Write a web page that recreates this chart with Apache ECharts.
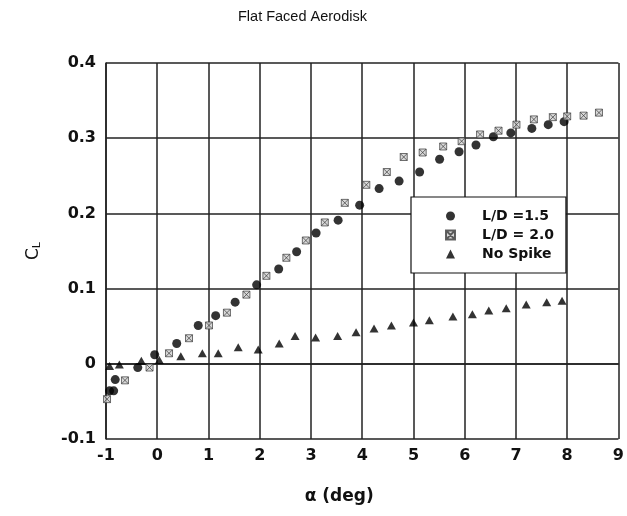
<!DOCTYPE html>
<html>
<head>
<meta charset="utf-8">
<title>Flat Faced Aerodisk</title>
<script src="https://cdn.jsdelivr.net/npm/echarts@6/dist/echarts.min.js"></script>
<style>
  html, body { margin: 0; padding: 0; background: #fff; }
  #chart { width: 627px; height: 516px; }
</style>
</head>
<body>
<div id="chart"></div>
<script>
// angle of attack (deg) and lift coefficient
const ldA15 = [-0.93, -0.85, -0.82, -0.38, -0.05, 0.38, 0.80, 1.14, 1.52, 1.94, 2.37, 2.72, 3.10, 3.53, 3.95,
  4.33, 4.72, 5.12, 5.51, 5.89, 6.22, 6.56, 6.90, 7.31, 7.63, 7.94]
const ldCL15 = [-0.036, -0.036, -0.021, -0.005, 0.012, 0.027, 0.051, 0.064, 0.082, 0.105, 0.126, 0.149, 0.174, 0.191, 0.211,
  0.233, 0.243, 0.255, 0.272, 0.282, 0.291, 0.302, 0.307, 0.313, 0.318, 0.322]

const ldA20 = [-0.98, -0.63, -0.15, 0.23, 0.62, 1.01, 1.36, 1.74, 2.13, 2.52, 2.90, 3.27, 3.66, 4.08, 4.48,
  4.81, 5.18, 5.58, 5.94, 6.30, 6.66, 7.01, 7.35, 7.72, 8.00, 8.32, 8.62]
const ldCL20 = [-0.047, -0.022, -0.005, 0.014, 0.034, 0.051, 0.068, 0.092, 0.117, 0.141, 0.164, 0.188, 0.214, 0.238, 0.255,
  0.275, 0.281, 0.289, 0.296, 0.305, 0.310, 0.318, 0.325, 0.328, 0.329, 0.330, 0.334]

const noSpikeA = [-0.93, -0.74, -0.31, 0.04, 0.46, 0.88, 1.19, 1.58, 1.97, 2.38, 2.69, 3.09, 3.52, 3.88, 4.23,
  4.57, 5.00, 5.31, 5.77, 6.15, 6.47, 6.81, 7.20, 7.60, 7.90]
const noSpikeCL = [-0.003, -0.001, 0.004, 0.005, 0.010, 0.014, 0.014, 0.022, 0.019, 0.027, 0.037, 0.035, 0.037, 0.042, 0.047,
  0.051, 0.055, 0.058, 0.063, 0.066, 0.071, 0.074, 0.079, 0.082, 0.084]

const seriesNames = ['L/D =1.5', 'L/D = 2.0', 'No Spike']

const pairs = (xs, ys) => xs.map((x, i) => [x, ys[i]])

// boxed cross marker for the L/D = 2.0 points
const boxCross = 'path://M0,0L10,0L10,10L0,10ZM0,0L10,10M10,0L0,10'

const boldFont = 'DejaVu Sans'
const chart = echarts.init(document.getElementById('chart'))

const option = {
  animation: false,
  backgroundColor: '#fff',
  title: {
    text: 'Flat Faced Aerodisk',
    left: 238,
    top: 9,
    padding: 0,
    textStyle: {
      fontFamily: 'Liberation Sans',
      fontSize: 14.5,
      fontWeight: 'normal',
      color: '#111'
    }
  },
  grid: {
    left: 106,
    right: 6,
    top: 63,
    bottom: 77
  },
  legend: {
    orient: 'vertical',
    left: 411,
    top: 197,
    padding: [11, 12, 11, 34],
    backgroundColor: '#fff',
    borderColor: '#111',
    borderWidth: 1.2,
    itemWidth: 9,
    itemHeight: 9,
    itemGap: 3,
    data: seriesNames,
    textStyle: {
      fontFamily: boldFont,
      fontWeight: 'bold',
      fontSize: 14,
      lineHeight: 16,
      padding: [0, 0, 0, 22],
      color: '#111'
    }
  },
  xAxis: {
    type: 'value',
    min: -1,
    max: 9,
    interval: 1,
    name: 'α (deg)',
    nameLocation: 'middle',
    nameGap: 49,
    nameTextStyle: {
      fontFamily: boldFont,
      fontWeight: 'bold',
      fontSize: 17,
      color: '#111',
      padding: [0, 46, 0, 0]
    },
    axisLine: { lineStyle: { color: '#222', width: 1.5 } },
    axisTick: { show: false },
    axisLabel: {
      margin: 9,
      fontFamily: boldFont,
      fontWeight: 'bold',
      fontSize: 16,
      color: '#111'
    },
    splitLine: { lineStyle: { color: '#222', width: 1.5 } }
  },
  yAxis: {
    type: 'value',
    min: -0.1,
    max: 0.4,
    interval: 0.1,
    name: '{c|C}{s|L}',
    nameLocation: 'middle',
    nameGap: 63,
    nameRotate: 90,
    nameTextStyle: {
      rich: {
        c: { fontFamily: boldFont, fontSize: 17, color: '#111' },
        s: { fontFamily: boldFont, fontSize: 11, color: '#111', verticalAlign: 'bottom', padding: [8, 0, 0, 0] }
      }
    },
    axisLine: { show: true, onZero: false, lineStyle: { color: '#222', width: 1.5 } },
    axisTick: { show: false },
    axisLabel: {
      margin: 10,
      fontFamily: boldFont,
      fontWeight: 'bold',
      fontSize: 16,
      color: '#111'
    },
    splitLine: { lineStyle: { color: '#222', width: 1.5 } }
  },
  series: [
    {
      name: seriesNames[0],
      type: 'scatter',
      symbol: 'circle',
      symbolSize: 9,
      itemStyle: { color: '#000' },
      data: pairs(ldA15, ldCL15)
    },
    {
      name: seriesNames[1],
      type: 'scatter',
      symbol: boxCross,
      symbolSize: 7,
      itemStyle: { color: '#cfcfcf', borderColor: '#3a3a3a', borderWidth: 0.9 },
      data: pairs(ldA20, ldCL20)
    },
    {
      name: seriesNames[2],
      type: 'scatter',
      symbol: 'triangle',
      symbolSize: [9, 8],
      itemStyle: { color: '#000' },
      data: pairs(noSpikeA, noSpikeCL)
    }
  ]
}

chart.setOption(option)
</script>
</body>
</html>
